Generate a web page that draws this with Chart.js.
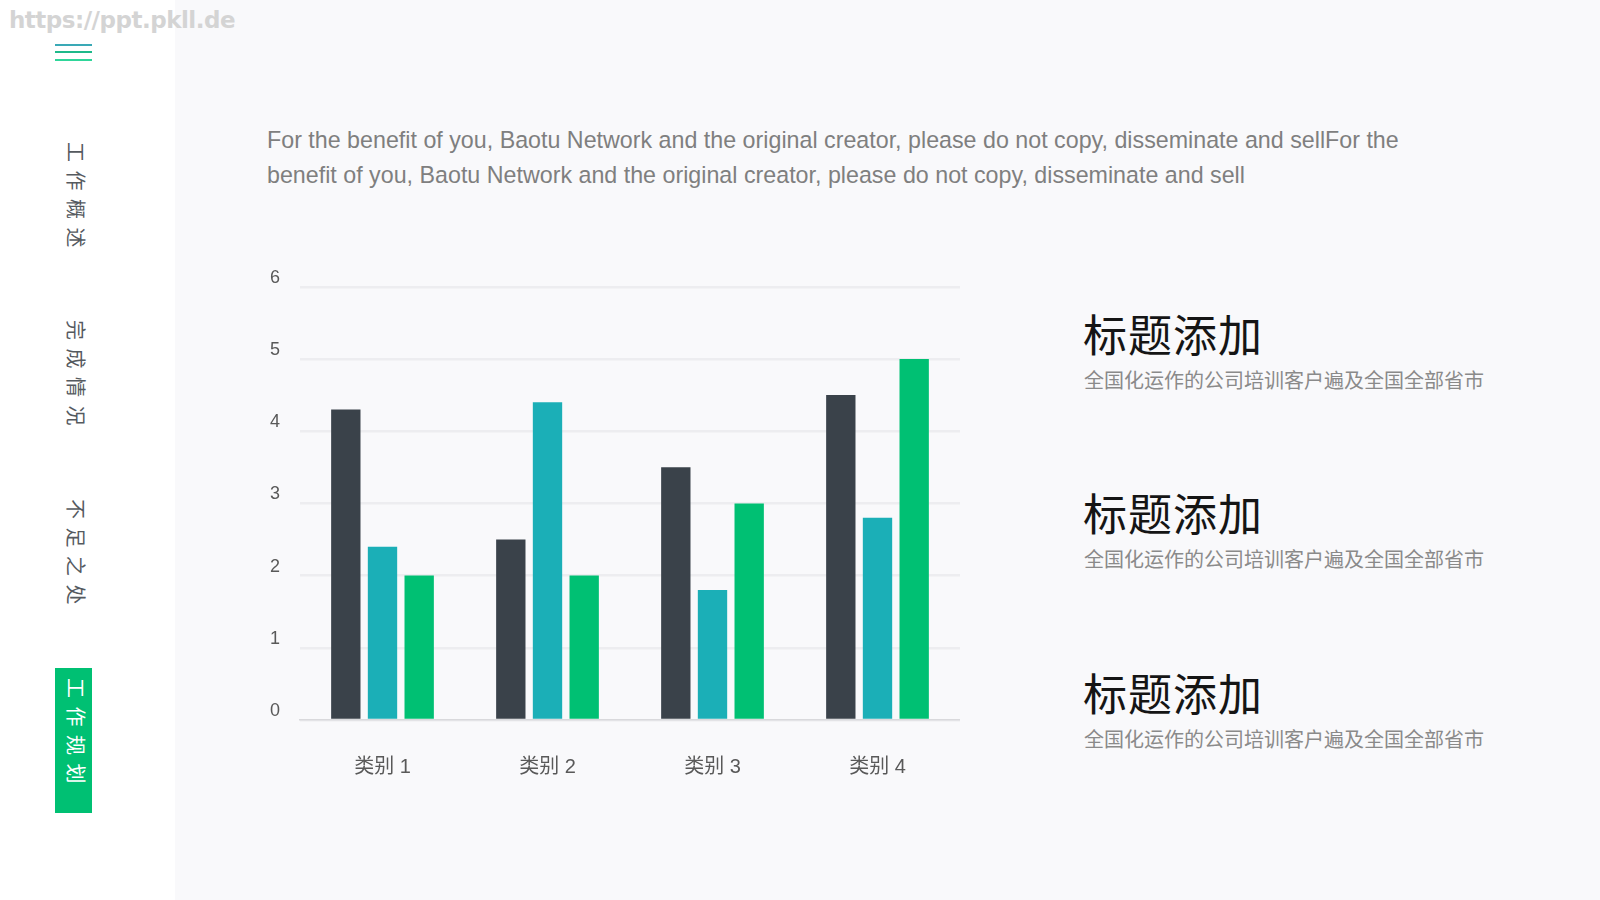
<!DOCTYPE html>
<html>
<head>
<meta charset="utf-8">
<script src="https://cdn.jsdelivr.net/npm/chart.js@4.4.1/dist/chart.umd.min.js"></script>
<style>
  body { margin: 0; width: 1600px; height: 900px; background: #f9f9fb; position: relative; overflow: hidden;
         font-family: "Liberation Sans", "Noto Sans CJK SC", sans-serif; }
  #side { position: absolute; left: 0; top: 0; width: 175px; height: 900px; background: #ffffff; }
  #mark { position: absolute; left: 9px; top: 7px; font: bold 23px "DejaVu Sans", sans-serif; color: #d4d4d4; letter-spacing: -0.5px; }
  .bar-line { position: absolute; left: 55px; width: 37px; height: 2px; }
  .nav { position: absolute; left: 62px; writing-mode: vertical-rl; text-orientation: sideways; font: 20px "Noto Sans CJK SC", sans-serif;
         color: #555a5f; letter-spacing: 8.5px; }
  #active { position: absolute; left: 55px; top: 668px; width: 37px; height: 145px; background: #00c073; }
  #active span { position: absolute; left: 7px; top: 10px; writing-mode: vertical-rl; text-orientation: sideways; font: 20px "Noto Sans CJK SC", sans-serif;
         color: #ffffff; letter-spacing: 8.5px; }
  #intro { position: absolute; left: 267px; top: 123px; font-size: 23.25px; line-height: 35px; color: #7f7f7f; white-space: nowrap; }
  .title { position: absolute; left: 1083px; font: 400 44px "Noto Sans CJK SC", sans-serif; color: #151515; letter-spacing: 1px; }
  .sub { position: absolute; left: 1084px; font: 20px "Noto Sans CJK SC", sans-serif; color: #8a8a8a; }
  #chartBox { position: absolute; left: 250px; top: 256px; width: 710px; height: 534px; }
</style>
</head>
<body>
<div id="side"></div>
<div id="mark">https://ppt.pkll.de</div>
<div class="bar-line" style="top:44px;background:#3aa9b6"></div>
<div class="bar-line" style="top:51px;background:#1fb98a"></div>
<div class="bar-line" style="top:59px;background:#2fd69a"></div>
<div class="nav" style="top:142px">工作概述</div>
<div class="nav" style="top:320px">完成情况</div>
<div class="nav" style="top:499px">不足之处</div>
<div id="active"><span>工作规划</span></div>

<div id="intro">For the benefit of you, Baotu Network and the original creator, please do not copy, disseminate and sellFor the<br>benefit of you, Baotu Network and the original creator, please do not copy, disseminate and sell</div>

<div class="title" style="top:301px">标题添加</div>
<div class="sub" style="top:365px">全国化运作的公司培训客户遍及全国全部省市</div>
<div class="title" style="top:480px">标题添加</div>
<div class="sub" style="top:544px">全国化运作的公司培训客户遍及全国全部省市</div>
<div class="title" style="top:660px">标题添加</div>
<div class="sub" style="top:724px">全国化运作的公司培训客户遍及全国全部省市</div>

<div id="chartBox"><canvas id="myChart"></canvas></div>

<script>
  const categories = ["类别 1", "类别 2", "类别 3", "类别 4"]
  const series1 = [4.3, 2.5, 3.5, 4.5]
  const series2 = [2.4, 4.4, 1.8, 2.8]
  const series3 = [2, 2, 3, 5]
  const yTicks = [0, 1, 2, 3, 4, 5, 6]

  const ctx = document.getElementById("myChart").getContext("2d")
  new Chart(ctx, {
    type: "bar",
    data: {
      labels: categories,
      datasets: [
        { label: "系列 1", data: series1, backgroundColor: "#3a424a" },
        { label: "系列 2", data: series2, backgroundColor: "#1bafb7" },
        { label: "系列 3", data: series3, backgroundColor: "#00c073" }
      ]
    },
    options: {
      responsive: true,
      maintainAspectRatio: false,
      animation: false,
      layout: { padding: { top: 22, right: 0, bottom: 0, left: 0 } },
      categoryPercentage: 0.667,
      barPercentage: 0.8,
      plugins: { legend: { display: false }, tooltip: { enabled: false } },
      scales: {
        x: {
          grid: { display: false },
          border: { display: true, color: "#d9d9dc", width: 1.5 },
          ticks: { color: "#595959", font: { size: 20, family: "'Liberation Sans', 'Noto Sans CJK SC', sans-serif" }, padding: 27 },
          afterFit: s => { s.height = 70 }
        },
        y: {
          min: 0,
          max: 6,
          afterBuildTicks: s => { s.ticks = yTicks.map(v => ({ value: v })) },
          grid: { color: "#ededf0", lineWidth: 2.5, drawTicks: false },
          border: { display: false },
          ticks: { color: "#595959", font: { size: 18, family: "'Liberation Sans', sans-serif" }, padding: 20, labelOffset: -9 },
          afterFit: s => { s.width = 50 }
        }
      }
    }
  })
</script>
</body>
</html>
